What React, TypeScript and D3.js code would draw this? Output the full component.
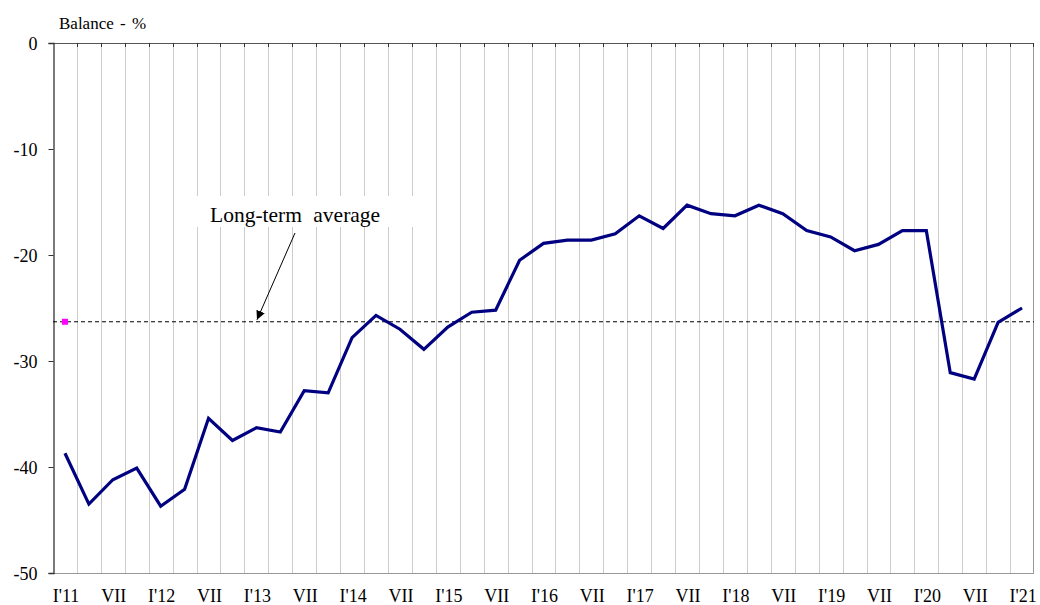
import * as d3 from "d3";
import { useEffect, useRef } from "react";

// quarterly periods, I'11 .. I'21
const years = ["11", "12", "13", "14", "15", "16", "17", "18", "19", "20", "21"];
const quarterNames = ["I", "IV", "VII", "X"];
const periods: string[] = years.flatMap((y) => quarterNames.map((q) => (q === "I" ? `I'${y}` : q))).slice(0, 41);

// balance, %
const balance = [
  -38.7, -43.5, -41.2, -40.1, -43.7, -42.1, -35.4, -37.5, -36.3, -36.7,
  -32.8, -33.0, -27.8, -25.7, -27.0, -28.9, -26.8, -25.4, -25.2, -20.5,
  -18.9, -18.6, -18.6, -18.0, -16.3, -17.5, -15.3, -16.1, -16.3, -15.3,
  -16.1, -17.7, -18.3, -19.6, -19.0, -17.7, -17.7, -31.1, -31.7, -26.35,
  -25.0,
];

const longTermAverage = -26.3;
const yTicks = [0, -10, -20, -30, -40, -50];

const W = 1040;
const H = 605;
const margin = { top: 43, right: 6, bottom: 32, left: 53 };
const serif = '"Times New Roman", "Liberation Serif", Tinos, serif';

export default function App() {
  const ref = useRef<SVGSVGElement>(null);

  useEffect(() => {
    const svg = d3.select(ref.current);
    svg.selectAll("*").remove();

    const idx = d3.range(periods.length);
    const x = d3
      .scaleBand<number>()
      .domain(idx)
      .range([margin.left, W - margin.right])
      .paddingInner(0)
      .paddingOuter(0);
    const y = d3.scaleLinear().domain([-50, 0]).range([H - margin.bottom, margin.top]);

    const x0 = margin.left;
    const x1 = W - margin.right;
    const yTop = y(0);
    const yBot = y(-50);
    const bw = x.bandwidth();

    svg
      .append("defs")
      .append("marker")
      .attr("id", "arrow")
      .attr("viewBox", "0 0 10 10")
      .attr("refX", 10)
      .attr("refY", 5)
      .attr("markerWidth", 9)
      .attr("markerHeight", 9)
      .attr("markerUnits", "userSpaceOnUse")
      .attr("orient", "auto")
      .append("path")
      .attr("d", "M0,0 L10,5 L0,10 z")
      .attr("fill", "#000");

    // vertical gridlines at band boundaries
    const bounds = idx.slice(1).map((i) => x(i)!);
    svg
      .append("g")
      .selectAll("line")
      .data(bounds)
      .join("line")
      .attr("x1", (d) => Math.round(d) + 0.5)
      .attr("x2", (d) => Math.round(d) + 0.5)
      .attr("y1", yTop)
      .attr("y2", yBot)
      .attr("stroke", "#cccccc")
      .attr("stroke-width", 1);

    // frame
    svg
      .append("line")
      .attr("x1", x1 - 0.5)
      .attr("x2", x1 - 0.5)
      .attr("y1", yTop)
      .attr("y2", yBot)
      .attr("stroke", "#999");
    svg
      .append("line")
      .attr("x1", x0)
      .attr("x2", x1)
      .attr("y1", yBot + 0.5)
      .attr("y2", yBot + 0.5)
      .attr("stroke", "#999");

    // top axis (0 line) with ticks
    svg
      .append("line")
      .attr("x1", x0)
      .attr("x2", x1)
      .attr("y1", yTop + 0.5)
      .attr("y2", yTop + 0.5)
      .attr("stroke", "#555")
      .attr("stroke-width", 1.2);
    svg
      .append("g")
      .selectAll("line")
      .data([...bounds, x1 - 1])
      .join("line")
      .attr("x1", (d) => Math.round(d) + 0.5)
      .attr("x2", (d) => Math.round(d) + 0.5)
      .attr("y1", yTop)
      .attr("y2", yTop + 4)
      .attr("stroke", "#333");

    // y axis
    const yAxis = svg
      .append("g")
      .attr("transform", `translate(${x0 + 0.5},0)`)
      .call(d3.axisLeft(y).tickValues(yTicks).tickSize(5).tickPadding(11).tickFormat((d) => String(d)));
    yAxis.attr("font-family", null).attr("font-size", null);
    yAxis.select(".domain").attr("stroke", "#333").attr("stroke-width", 1.3);
    yAxis.selectAll(".tick line").attr("stroke", "#333");
    yAxis
      .selectAll("text")
      .attr("fill", "#000")
      .style("font-family", serif)
      .style("font-size", "18px")
      .attr("dy", "0.34em");

    // x labels
    svg
      .append("g")
      .selectAll("text")
      .data(idx.filter((i) => i % 2 === 0))
      .join("text")
      .attr("x", (i) => x(i)! + bw / 2 + 1)
      .attr("y", 602)
      .attr("text-anchor", "middle")
      .style("font-family", serif)
      .style("font-size", "18px")
      .attr("fill", "#000")
      .text((i) => periods[i]);

    // annotation box
    svg
      .append("rect")
      .attr("x", 190)
      .attr("y", 196)
      .attr("width", 230)
      .attr("height", 31)
      .attr("fill", "#fff");
    svg
      .append("text")
      .attr("x", 210)
      .attr("y", 222)
      .style("font-family", serif)
      .style("font-size", "21.5px")
      .style("word-spacing", "6px")
      .attr("fill", "#000")
      .text("Long-term average");

    // long-term average
    svg
      .append("line")
      .attr("x1", x0)
      .attr("x2", x1)
      .attr("y1", y(longTermAverage))
      .attr("y2", y(longTermAverage))
      .attr("stroke", "#000")
      .attr("stroke-width", 1)
      .attr("stroke-dasharray", "4 3");
    svg
      .append("rect")
      .attr("x", x(0)! + bw / 2 - 3)
      .attr("y", y(longTermAverage) - 3)
      .attr("width", 6)
      .attr("height", 6)
      .attr("fill", "#ff00ff");

    svg
      .append("line")
      .attr("x1", 295)
      .attr("y1", 233)
      .attr("x2", 257)
      .attr("y2", y(longTermAverage) - 2)
      .attr("stroke", "#000")
      .attr("stroke-width", 1)
      .attr("marker-end", "url(#arrow)");

    // balance line
    const line = d3
      .line<number>()
      .x((_, i) => x(i)! + bw / 2)
      .y((d) => y(d));
    svg
      .append("path")
      .datum(balance)
      .attr("d", line)
      .attr("fill", "none")
      .attr("stroke", "#000080")
      .attr("stroke-width", 3.2)
      .attr("stroke-linejoin", "miter");

    svg
      .append("text")
      .attr("x", 59)
      .attr("y", 29)
      .style("font-family", serif)
      .style("font-size", "17px")
      .style("word-spacing", "2px")
      .attr("fill", "#000")
      .text("Balance - %");
  }, []);

  return (
    <div style={{ position: "fixed", left: 0, top: 0, width: W, height: H, background: "#fff" }}>
      <svg ref={ref} width={W} height={H} style={{ display: "block" }} />
    </div>
  );
}
